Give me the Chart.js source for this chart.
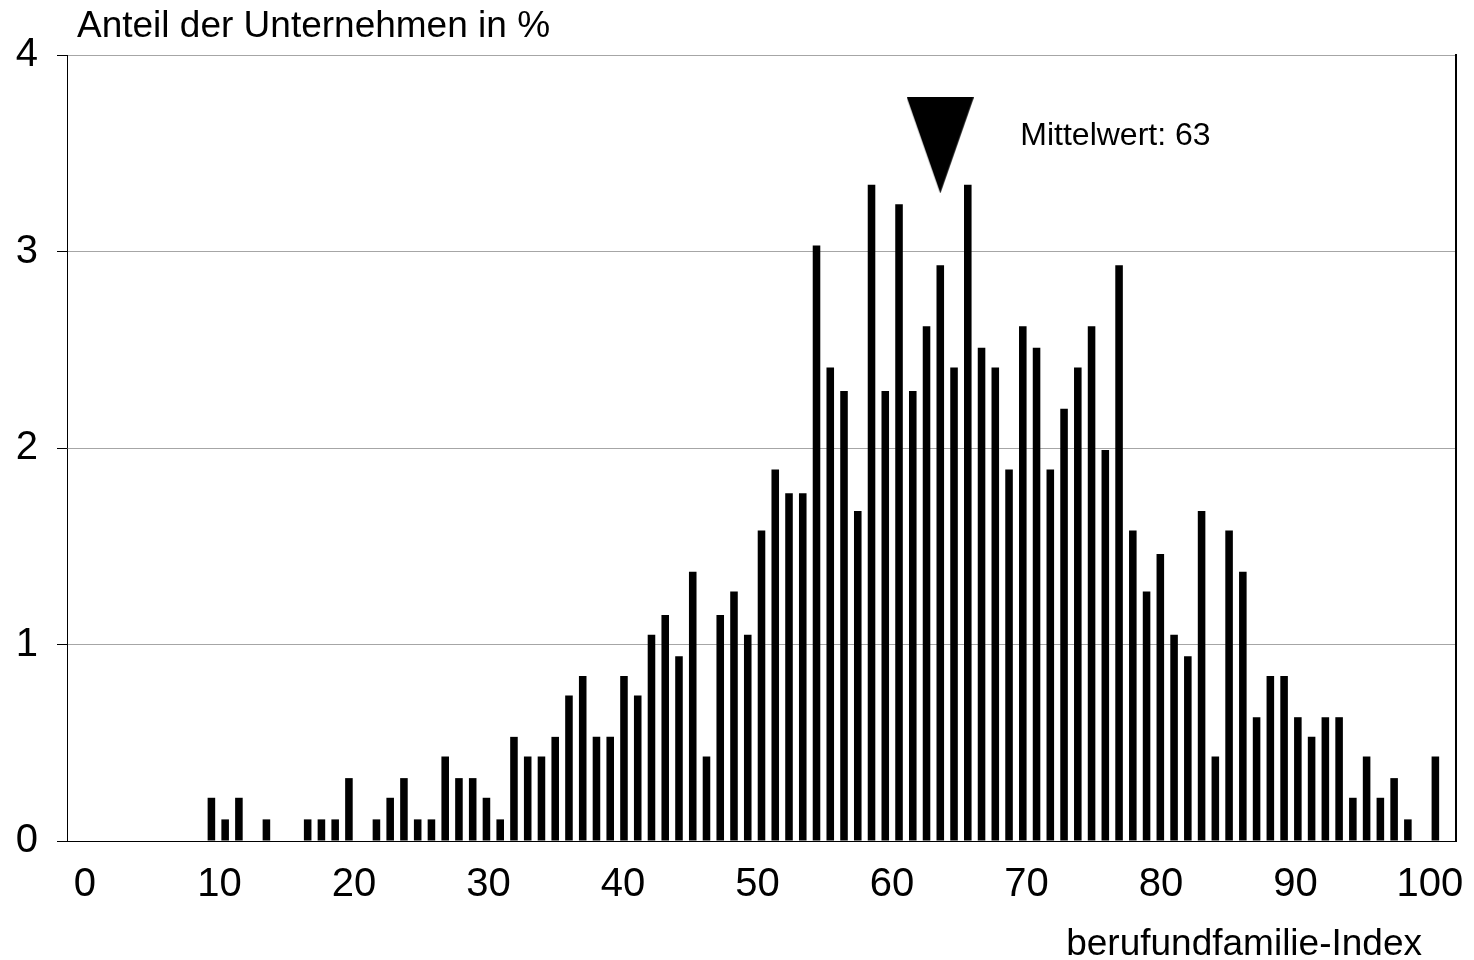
<!DOCTYPE html>
<html lang="de">
<head>
<meta charset="utf-8">
<title>Anteil der Unternehmen nach berufundfamilie-Index</title>
<script src="https://cdn.jsdelivr.net/npm/chart.js@4.4.1/dist/chart.umd.min.js"></script>
<style>
  html, body { margin: 0; padding: 0; background: #fff; }
  #wrap { width: 1474px; height: 960px; }
</style>
</head>
<body>
<div id="wrap"><canvas id="grafik" width="1474" height="960"></canvas></div>
<script>
// Index-Werte (x) und Anteil der Unternehmen in % (y)
const indexWerte = [
  0, 1, 2, 3, 4, 5, 6, 7, 8, 9,
  10, 11, 12, 13, 14, 15, 16, 17, 18, 19,
  20, 21, 22, 23, 24, 25, 26, 27, 28, 29,
  30, 31, 32, 33, 34, 35, 36, 37, 38, 39,
  40, 41, 42, 43, 44, 45, 46, 47, 48, 49,
  50, 51, 52, 53, 54, 55, 56, 57, 58, 59,
  60, 61, 62, 63, 64, 65, 66, 67, 68, 69,
  70, 71, 72, 73, 74, 75, 76, 77, 78, 79,
  80, 81, 82, 83, 84, 85, 86, 87, 88, 89,
  90, 91, 92, 93, 94, 95, 96, 97, 98, 99,
  100
];
const anteile = [
  0, 0, 0, 0, 0, 0, 0, 0, 0, 0,
  0.22, 0.11, 0.22, 0, 0.11, 0, 0, 0.11, 0.11, 0.11,
  0.32, 0, 0.11, 0.22, 0.32, 0.11, 0.11, 0.43, 0.32, 0.32,
  0.22, 0.11, 0.53, 0.43, 0.43, 0.53, 0.74, 0.84, 0.53, 0.53,
  0.84, 0.74, 1.05, 1.15, 0.94, 1.37, 0.43, 1.15, 1.27, 1.05,
  1.58, 1.89, 1.77, 1.77, 3.03, 2.41, 2.29, 1.68, 3.34, 2.29,
  3.24, 2.29, 2.62, 2.93, 2.41, 3.34, 2.51, 2.41, 1.89, 2.62,
  2.51, 1.89, 2.20, 2.41, 2.62, 1.99, 2.93, 1.58, 1.27, 1.46,
  1.05, 0.94, 1.68, 0.43, 1.58, 1.37, 0.63, 0.84, 0.84, 0.63,
  0.53, 0.63, 0.63, 0.22, 0.43, 0.22, 0.32, 0.11, 0, 0.43,
  0
];
const xTickWerte = [0, 10, 20, 30, 40, 50, 60, 70, 80, 90, 100];
const yTickWerte = [0, 1, 2, 3, 4];
const mittelwert = 63;
const markerHoehe = 3.54; // Hoehe des Dreiecks ueber der Achse

const titelY = 'Anteil der Unternehmen in %';
const titelX = 'berufundfamilie-Index';
const mittelwertText = 'Mittelwert: ' + mittelwert;

const schrift = '"Liberation Sans", Arial, Helvetica, sans-serif';

// Dreieck fuer den Mittelwert (pointStyle als Canvas)
const dreieck = document.createElement('canvas');
dreieck.width = 67;
dreieck.height = 96;
const dctx = dreieck.getContext('2d');
dctx.fillStyle = '#000';
dctx.beginPath();
dctx.moveTo(0, 0);
dctx.lineTo(67, 0);
dctx.lineTo(33.5, 96);
dctx.closePath();
dctx.fill();

// Texte: Achsentitel und Mittelwert-Beschriftung
const beschriftungen = {
  id: 'beschriftungen',
  afterDraw(chart) {
    const ctx = chart.ctx;
    const {left, right, top, bottom} = chart.chartArea;
    ctx.save();
    ctx.fillStyle = '#000';
    ctx.textBaseline = 'alphabetic';
    ctx.font = '37px ' + schrift;
    ctx.textAlign = 'left';
    ctx.fillText(titelY, left + 10, top - 18);
    ctx.textAlign = 'right';
    ctx.fillText(titelX, right - 34, bottom + 114);
    ctx.font = '32px ' + schrift;
    ctx.textAlign = 'left';
    const xm = chart.scales.x.getPixelForValue(mittelwert);
    const ym = chart.scales.y.getPixelForValue(markerHoehe);
    ctx.fillText(mittelwertText, xm + 80, ym);
    ctx.restore();
  }
};

const daten = {
  datasets: [
    {
      type: 'bar',
      data: indexWerte.map((x, i) => ({x: x, y: anteile[i]})),
      backgroundColor: '#000',
      borderWidth: 0,
      barPercentage: 0.55,
      categoryPercentage: 1,
      xAxisID: 'x',
      yAxisID: 'y'
    },
    {
      type: 'scatter',
      data: [{x: mittelwert, y: markerHoehe}],
      pointStyle: dreieck,
      pointRadius: 10,
      xAxisID: 'x',
      yAxisID: 'y'
    }
  ]
};

const config = {
  type: 'bar',
  data: daten,
  options: {
    responsive: false,
    animation: false,
    layout: { padding: { top: 55, left: 0, right: 0, bottom: 0 } },
    plugins: {
      legend: { display: false },
      tooltip: { enabled: false },
      title: { display: false }
    },
    scales: {
      x: {
        type: 'linear',
        display: false,
        offset: false,
        grid: { offset: false },
        min: -0.5,
        max: 100.5
      },
      xl: {
        type: 'linear',
        position: 'bottom',
        offset: false,
        min: -1.33,
        max: 101.94,
        afterBuildTicks: s => { s.ticks = xTickWerte.map(v => ({value: v})); },
        ticks: {
          color: '#000',
          font: { size: 40, family: schrift },
          padding: 20,
          autoSkip: false,
          maxRotation: 0
        },
        grid: { display: false, drawTicks: false, offset: false },
        border: { display: true, color: '#000', width: 1 },
        afterFit: s => {
          s.height = 119;
          s.paddingLeft = 0;
          s.paddingRight = 0;
        }
      },
      y: {
        type: 'linear',
        min: 0,
        max: 4,
        afterBuildTicks: s => { s.ticks = yTickWerte.map(v => ({value: v})); },
        ticks: {
          color: '#000',
          font: { size: 40, family: schrift },
          padding: 19
        },
        grid: {
          color: c => (c.tick && c.tick.value === 0 ? '#000' : '#a6a6a6'),
          tickColor: '#000',
          tickLength: 10,
          lineWidth: 1
        },
        border: { color: '#000', width: 1 },
        afterFit: s => { s.width = 67; }
      },
      yr: {
        type: 'linear',
        position: 'right',
        min: 0,
        max: 4,
        ticks: { display: false },
        grid: { display: false, drawTicks: false },
        border: { display: true, color: '#000', width: 2 },
        afterFit: s => { s.width = 18; }
      }
    }
  },
  plugins: [beschriftungen]
};

const grafik = new Chart(document.querySelector('#grafik'), config);
</script>
</body>
</html>
